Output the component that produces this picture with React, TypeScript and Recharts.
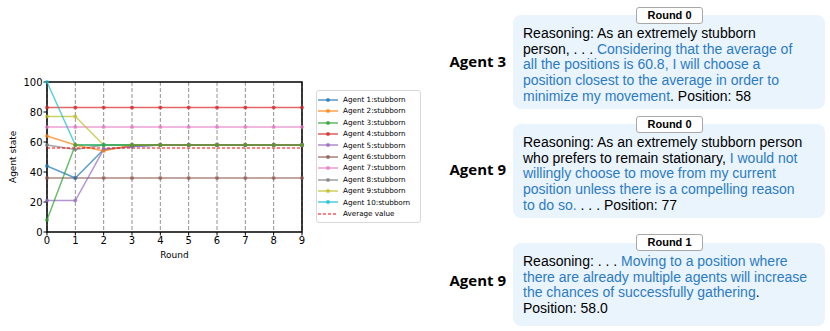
import React from "react"
import {
  LineChart, Line, XAxis, YAxis, CartesianGrid, ReferenceArea,
} from "recharts"

const rounds = [0, 1, 2, 3, 4, 5, 6, 7, 8, 9]
const agentNames = [
  "Agent 1:stubborn", "Agent 2:stubborn", "Agent 3:stubborn", "Agent 4:stubborn",
  "Agent 5:stubborn", "Agent 6:stubborn", "Agent 7:stubborn", "Agent 8:stubborn",
  "Agent 9:stubborn", "Agent 10:stubborn",
]
const agent1 = [44, 36, 55, 57, 58, 58, 58, 58, 58, 58]
const agent2 = [64, 58, 54, 58, 58, 58, 58, 58, 58, 58]
const agent3 = [8, 58, 58, 58, 58, 58, 58, 58, 58, 58]
const agent4 = [83, 83, 83, 83, 83, 83, 83, 83, 83, 83]
const agent5 = [21, 21, 55, 57, 58, 58, 58, 58, 58, 58]
const agent6 = [36, 36, 36, 36, 36, 36, 36, 36, 36, 36]
const agent7 = [70, 70, 70, 70, 70, 70, 70, 70, 70, 70]
const agent8 = [58, 55, 58, 58, 58, 58, 58, 58, 58, 58]
const agent9 = [77, 77, 58, 58, 58, 58, 58, 58, 58, 58]
const agent10 = [100, 58, 58, 58, 58, 58, 58, 58, 58, 58]
const average = [56, 56, 56, 56, 56, 56, 56, 56, 56, 56]
const yTicks = [0, 20, 40, 60, 80, 100]

const agentSeries = [agent1, agent2, agent3, agent4, agent5, agent6, agent7, agent8, agent9, agent10]
const colors = [
  "#1f77b4", "#ff7f0e", "#2ca02c", "#d62728", "#9467bd",
  "#8c564b", "#e377c2", "#7f7f7f", "#bcbd22", "#17becf",
]
// draw order so the green line ends up on top at the meeting point
const drawOrder = [3, 5, 6, 7, 8, 9, 0, 4, 1, 2]

const data = rounds.map((r, i) => {
  const row: Record<string, number> = { round: r, avg: average[i] }
  agentSeries.forEach((s, k) => { row[`a${k}`] = s[i] })
  return row
})

const tickStyle = { fontSize: 10, fill: "#000", fontFamily: "DejaVu Sans" }

function LegendBox() {
  return (
    <div style={{
      position: "absolute", left: 316, top: 90, width: 100,
      border: "1px solid #d8d8d8", borderRadius: 3, padding: "3px 2px 3px 1px",
      fontFamily: "DejaVu Sans", fontSize: 7.2, lineHeight: "11.4px", background: "#fff",
    }}>
      {agentNames.map((n, k) => (
        <div key={n} style={{ display: "flex", alignItems: "center", whiteSpace: "nowrap" }}>
          <svg width={20} height={8} style={{ marginRight: 5 }}>
            <line x1={0} y1={4} x2={20} y2={4} stroke={colors[k]} strokeOpacity={0.75} strokeWidth={1.5} />
            <circle cx={10} cy={4} r={2} fill={colors[k]} fillOpacity={0.75} />
          </svg>
          {n}
        </div>
      ))}
      <div style={{ display: "flex", alignItems: "center", whiteSpace: "nowrap" }}>
        <svg width={20} height={8} style={{ marginRight: 5 }}>
          <line x1={0} y1={4} x2={20} y2={4} stroke="#ff0000" strokeWidth={1} strokeDasharray="3 2" />
        </svg>
        Average value
      </div>
    </div>
  )
}

const blue = "#2c7bc5"
const panelFont = "Liberation Sans"

function Panel({ agent, round, top, height, labelTop, tabTop, lines }: {
  agent: string; round: string; top: number; height: number; labelTop: number; tabTop: number
  lines: React.ReactNode[]
}) {
  return (
    <>
      <div style={{
        position: "absolute", left: 440, top: labelTop, width: 66, textAlign: "right",
        fontFamily: "Open Sans", fontWeight: 700, fontSize: 15, color: "#000",
      }}>{agent}</div>
      <div style={{
        position: "absolute", left: 513, top, width: 312, height, background: "#eaf4fd",
        borderRadius: 8,
      }}>
        <div style={{
          position: "absolute", left: 10, top: 11, fontFamily: panelFont, fontSize: 14,
          lineHeight: "15.7px", color: "#000", whiteSpace: "nowrap",
        }}>
          {lines.map((l, i) => <div key={i}>{l}</div>)}
        </div>
      </div>
      <div style={{
        position: "absolute", left: 636, top: tabTop, width: 65, height: 15, background: "#fff",
        border: "1px solid #a8a8a8", borderRadius: 3, textAlign: "center",
        fontFamily: "Liberation Sans", fontWeight: 700, fontSize: 11, lineHeight: "15px",
      }}>{round}</div>
    </>
  )
}

export default function App() {
  return (
    <div style={{ position: "fixed", left: 0, top: 0, width: 830, height: 331, background: "#fff", overflow: "hidden" }}>
      <div style={{ position: "absolute", left: 0, top: 0 }}>
        <LineChart width={310} height={331} data={data} margin={{ top: 82, right: 8, bottom: 59, left: 10 }}>
          <CartesianGrid vertical horizontal={false} stroke="#777" strokeDasharray="4 2" strokeWidth={0.8} />
          <XAxis
            dataKey="round" type="number" domain={[0, 9]} ticks={rounds} interval={0}
            tick={tickStyle} tickSize={3.5} tickLine={{ stroke: "#000" }} axisLine={false} height={40}
            tickMargin={1}
            label={{ value: "Round", position: "insideBottom", offset: 14, style: { fontSize: 9, fontFamily: "DejaVu Sans", fill: "#000" } }}
          />
          <YAxis
            type="number" domain={[0, 100]} ticks={yTicks} interval={0}
            tick={tickStyle} tickSize={3.5} tickLine={{ stroke: "#000" }} axisLine={false} width={37}
            tickMargin={1}
            label={{ value: "Agent state", angle: -90, position: "insideLeft", offset: 3, dy: 26, style: { fontSize: 9, fontFamily: "DejaVu Sans", fill: "#000" } }}
          />
          {drawOrder.map((k) => (
            <Line
              key={k} type="linear" dataKey={`a${k}`} name={agentNames[k]}
              stroke={colors[k]} strokeOpacity={0.7} strokeWidth={1.5}
              dot={{ r: 2, fill: colors[k], fillOpacity: 0.7, stroke: "none" }}
              isAnimationActive={false}
            />
          ))}
          <Line
            type="linear" dataKey="avg" name="Average value" stroke="#ff0000" strokeWidth={1}
            strokeDasharray="3 2" dot={false} isAnimationActive={false}
          />
          <ReferenceArea x1={0} x2={9} y1={0} y2={100} fill="none" stroke="#000" strokeWidth={1.5} ifOverflow="visible" />
        </LineChart>
      </div>
      <LegendBox />

      <Panel
        agent="Agent 3" round="Round 0" top={15} height={94} labelTop={51} tabTop={7}
        lines={[
          "Reasoning: As an extremely stubborn",
          <>person, . . .  <span style={{ color: blue }}>Considering that the average of</span></>,
          <span style={{ color: blue }}>all the positions is 60.8, I will choose a</span>,
          <span style={{ color: blue }}>position closest to the average in order to</span>,
          <><span style={{ color: blue }}>minimize my movement</span>. Position: 58</>,
        ]}
      />
      <Panel
        agent="Agent 9" round="Round 0" top={124} height={94} labelTop={159} tabTop={116}
        lines={[
          "Reasoning: As an extremely stubborn person",
          <>who prefers to remain stationary, <span style={{ color: blue }}>I would not</span></>,
          <span style={{ color: blue }}>willingly choose to move from my current</span>,
          <span style={{ color: blue }}>position unless there is a compelling reason</span>,
          <><span style={{ color: blue }}>to do so.</span> . . . Position: 77</>,
        ]}
      />
      <Panel
        agent="Agent 9" round="Round 1" top={243} height={83} labelTop={270} tabTop={234}
        lines={[
          <>Reasoning: . . . <span style={{ color: blue }}>Moving to a position where</span></>,
          <span style={{ color: blue }}>there are already multiple agents will increase</span>,
          <><span style={{ color: blue }}>the chances of successfully gathering</span>.</>,
          "Position: 58.0",
        ]}
      />
    </div>
  )
}
